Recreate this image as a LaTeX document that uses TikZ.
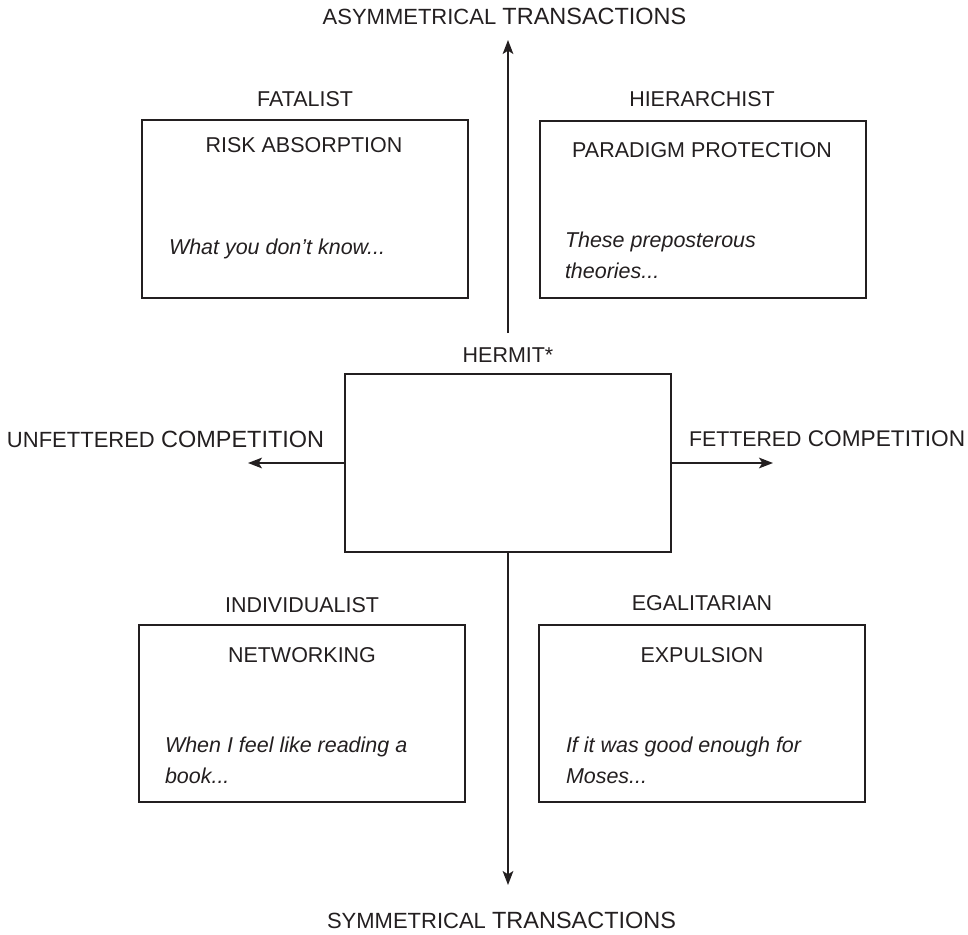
\documentclass[tikz,border=0pt]{standalone}
\usepackage{fontspec}
\setmainfont{Liberation Sans}
\usetikzlibrary{arrows.meta,fit}
\definecolor{ink}{HTML}{231F20}
\begin{document}
\begin{tikzpicture}[x=0.75pt,y=-0.75pt,
  every node/.style={inner sep=0pt,outer sep=0pt,text=ink},
  quad/.style={draw=ink,line width=1.3pt,fill=none},
  lbl/.style={anchor=base,font=\fontsize{16.1pt}{19pt}\selectfont},
  quote/.style={anchor=base west,font=\fontsize{16.1pt}{19pt}\selectfont\itshape},
  axislbl/.style={font=\fontsize{16.8pt}{19pt}\selectfont},
  axis/.style={draw=ink,line width=1.3pt,-{Stealth[length=10.5pt,width=8pt,inset=2.5pt]}}]
\useasboundingbox (0,0) rectangle (968,935);

% quadrant boxes
\node[quad,fit={(142,120)(468,298)}] (fat) {};
\node[quad,fit={(540,121)(866,298)}] (hier) {};
\node[quad,fit={(345,374)(671,552)}] (herm) {};
\node[quad,fit={(139,625)(465,802)}] (indiv) {};
\node[quad,fit={(539,625)(865,802)}] (egal) {};

% cultural types above the boxes
\node[lbl] (tfat) at (305,106) {FATALIST};
\node[lbl] (thier) at (702,106) {HIERARCHIST};
\node[lbl] (therm) at (508,362) {HERMIT*};
\node[lbl] (tindiv) at (302,612) {INDIVIDUALIST};
\node[lbl] (tegal) at (702,610) {EGALITARIAN};

% strategies inside the boxes
\node[lbl] (sfat) at (304,152) {RISK ABSORPTION};
\node[lbl] (shier) at (702,157) {PARADIGM PROTECTION};
\node[lbl] (sindiv) at (302,662) {NETWORKING};
\node[lbl] (segal) at (702,662) {EXPULSION};

% sayings
\node[quote] (qfat) at (169,254) {What you don’t know...};
\node[quote] (qhier1) at (565,247) {These preposterous};
\node[quote] (qhier2) at (565,278) {theories...};
\node[quote] (qindiv1) at (165,752) {When I feel like reading a};
\node[quote] (qindiv2) at (165,783) {book...};
\node[quote] (qegal1) at (566,752) {If it was good enough for};
\node[quote] (qegal2) at (566,783) {Moses...};

% axis labels
\node[axislbl,anchor=base] (atop) at (504.5,25) {{\fontsize{16.5pt}{19pt}\selectfont ASYMMETRICAL} {\fontsize{17.6pt}{19pt}\selectfont TRANSACTIONS}};
\node[axislbl,anchor=base] (abot) at (501.5,928) {{\fontsize{16.5pt}{19pt}\selectfont SYMMETRICAL} {\fontsize{17.6pt}{19pt}\selectfont TRANSACTIONS}};
\node[axislbl,anchor=base west] (aleft) at (7,447) {{\fontsize{16.5pt}{19pt}\selectfont UNFETTERED} {\fontsize{17.6pt}{19pt}\selectfont COMPETITION}};
\node[axislbl,anchor=base west] (aright) at (689,446) {{\fontsize{16pt}{19pt}\selectfont FETTERED} {\fontsize{17pt}{19pt}\selectfont COMPETITION}};

% axes
\coordinate (upstart) at (508,333);
\coordinate (uptip) at (508,40);
\coordinate (downtip) at (508,885);
\coordinate (lefttip) at (248,463);
\coordinate (righttip) at (773,463);
\draw[axis] (upstart) -- (uptip);
\draw[axis] (herm.south) -- (downtip);
\draw[axis] (herm.west) -- (lefttip);
\draw[axis] (herm.east) -- (righttip);
\end{tikzpicture}
\end{document}
